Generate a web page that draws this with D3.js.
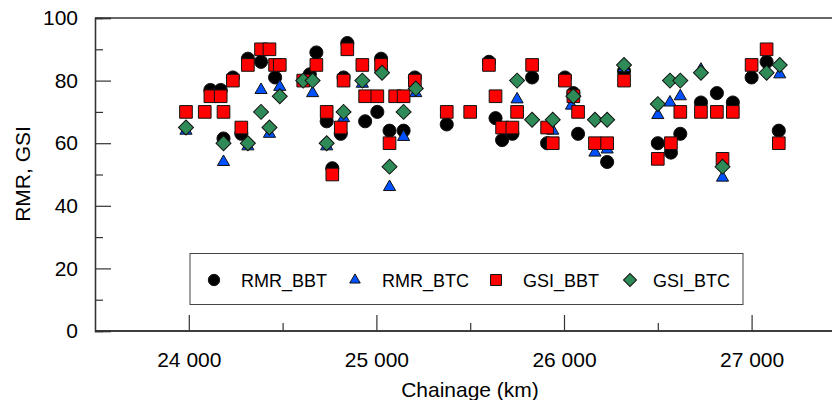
<!DOCTYPE html>
<html><head><meta charset="utf-8">
<script src="https://cdn.jsdelivr.net/npm/d3@7"></script>
<style>body{margin:0;background:#fff}svg{display:block}text{font-family:"Liberation Sans",Arial,sans-serif;fill:#000}</style>
</head><body><svg id="c" width="832" height="400"></svg>
<script>
const seriesNames = ["RMR_BBT", "RMR_BTC", "GSI_BBT", "GSI_BTC"];
const xTicks = [24000, 25000, 26000, 27000];
const xMinor = [24500, 25500, 26500];
const yTicks = [0, 20, 40, 60, 80, 100];
const yMinor = [10, 30, 50, 70, 90];

const rmrBBT = [[24115,77],[24170,77],[24185,61.5],[24235,81],[24280,63],[24315,87],[24385,86],[24460,81],[24645,82],[24680,89],[24735,67],[24765,52],[24810,63],[24825,81],[24845,92],[24940,67],[25005,70],[25025,87],[25070,64],[25145,64],[25205,81],[25375,66],[25600,86],[25635,68],[25670,61],[25725,63],[25830,81],[25910,60],[26005,81],[26050,76],[26075,63],[26230,54],[26320,83],[26500,60],[26570,57],[26620,63],[26730,73],[26815,76],[26900,73],[27000,81],[27080,86],[27145,64]];
const rmrBTC = [[23985,64],[24185,54],[24315,59],[24385,77],[24430,63],[24485,78],[24660,76],[24735,59],[24825,68],[24925,79],[25070,46],[25145,62],[25210,76],[25750,74],[25940,64],[26040,72],[26165,57],[26230,58],[26320,84],[26500,69],[26565,73],[26620,75],[26730,83.5],[26845,49],[27150,82]];
const gsiBBT = [[23985,70],[24085,70],[24115,75],[24170,75],[24185,70],[24235,80],[24280,65],[24315,85],[24385,90],[24430,90],[24460,85],[24485,85],[24610,80],[24680,85],[24735,70],[24765,50],[24810,65],[24825,80],[24845,90],[24925,85],[24940,75],[25005,75],[25025,85],[25070,60],[25100,75],[25145,75],[25205,80],[25375,70],[25500,70],[25600,85],[25635,75],[25670,65],[25725,65],[25750,70],[25830,85],[25910,65],[25940,60],[26005,80],[26050,75],[26075,70],[26165,60],[26230,60],[26320,80],[26500,55],[26570,60],[26620,70],[26730,70],[26815,70],[26845,55],[26900,70],[27000,85],[27080,90],[27145,60]];
const gsiBTC = [[23985,65],[24185,60],[24315,60],[24385,70],[24430,65],[24485,75],[24610,80],[24660,80],[24735,60],[24825,70],[24925,80],[25030,82.5],[25070,52.5],[25145,70],[25210,77.5],[25750,80],[25830,67.5],[25940,67.5],[26050,75],[26165,67.5],[26230,67.5],[26320,85],[26500,72.5],[26565,80],[26620,80],[26730,82.5],[26845,52.5],[27080,82.5],[27150,85]];

const svg = d3.select("#c");
const x = d3.scaleLinear().domain([23500, 27500]).range([95, 845.4]);
const y = d3.scaleLinear().domain([0, 100]).range([331, 18]);

const styles = [
  {data: rmrBBT, sym: d3.symbolCircle, size: 135, fill: "#000000", rot: 0},
  {data: rmrBTC, sym: d3.symbolTriangle, size: 64, fill: "#0050ff", rot: 0},
  {data: gsiBBT, sym: d3.symbolSquare, size: 160, fill: "#ff0000", rot: 0},
  {data: gsiBTC, sym: d3.symbolSquare, size: 112, fill: "#2e8b57", rot: 45}
];

// frame
svg.append("line").attr("x1", 95).attr("x2", 832).attr("y1", 18).attr("y2", 18).attr("stroke", "#333").attr("stroke-width", 1.3);

// axes
const xAxis = svg.append("g").attr("transform", "translate(0,331)");
xAxis.call(d3.axisBottom(x).tickValues(xTicks).tickSize(-16).tickPadding(21).tickFormat(d => d3.format(",")(d).replace(",", " ")));
xAxis.append("g").call(d3.axisBottom(x).tickValues(xMinor).tickSize(-8).tickFormat(""));
xAxis.selectAll(".domain").attr("stroke", "#333").attr("stroke-width", 1.3).attr("d", "M95,0H832");
xAxis.selectAll("line").attr("stroke", "#333").attr("stroke-width", 1.2);
xAxis.selectAll("text").style("font-size", "21px").attr("fill", "#000").attr("font-family", "Liberation Sans, Arial, sans-serif");

const yAxis = svg.append("g").attr("transform", "translate(95,0)");
yAxis.call(d3.axisLeft(y).tickValues(yTicks).tickSize(-16).tickPadding(17));
yAxis.append("g").call(d3.axisLeft(y).tickValues(yMinor).tickSize(-8).tickFormat(""));
yAxis.selectAll(".domain").attr("stroke", "#333").attr("stroke-width", 1.3);
yAxis.selectAll("line").attr("stroke", "#333").attr("stroke-width", 1.2);
yAxis.selectAll("text").style("font-size", "21px").attr("fill", "#000").attr("font-family", "Liberation Sans, Arial, sans-serif");

// titles
svg.append("text").attr("x", 470).attr("y", 397).attr("text-anchor", "middle").style("font-size", "21px").text("Chainage (km)");
svg.append("text").attr("transform", "translate(30,174) rotate(-90)").attr("text-anchor", "middle").style("font-size", "21px").text("RMR, GSI");

// points
styles.forEach(s => {
  svg.append("g").selectAll("path").data(s.data).join("path")
    .attr("d", d3.symbol().type(s.sym).size(s.size))
    .attr("transform", d => `translate(${x(d[0])},${y(d[1])}) rotate(${s.rot})`)
    .attr("fill", s.fill).attr("stroke", "#111").attr("stroke-width", 1);
});

// legend
const lg = svg.append("g");
lg.append("rect").attr("x", 190).attr("y", 253.5).attr("width", 553).attr("height", 51).attr("fill", "#fff").attr("stroke", "#444").attr("stroke-width", 1);
const legX = [214, 355, 496, 630];
const legTX = [241, 382, 523, 653];
styles.forEach((s, i) => {
  lg.append("path").attr("d", d3.symbol().type(s.sym).size(s.size * 0.75))
    .attr("transform", `translate(${legX[i]},280) rotate(${s.rot})`)
    .attr("fill", s.fill).attr("stroke", "#111").attr("stroke-width", 1);
  lg.append("text").attr("x", legTX[i]).attr("y", 286.5).style("font-size", "18px").text(seriesNames[i]);
});
</script></body></html>
